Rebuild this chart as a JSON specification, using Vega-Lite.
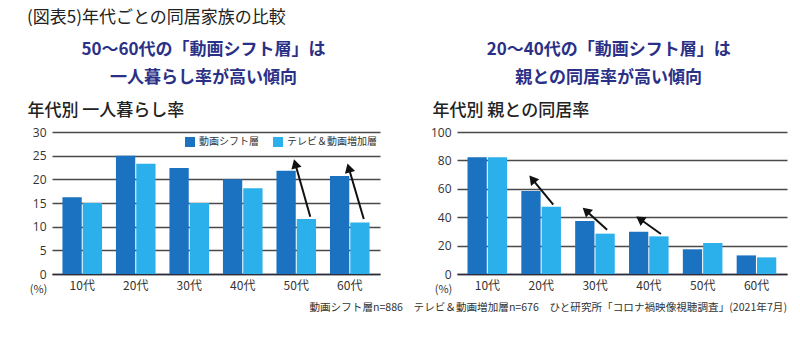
{
  "$schema": "https://vega.github.io/schema/vega-lite/v6.json",
  "padding": {"left": 27, "top": 9, "right": 14, "bottom": 6},
  "background": "white",
  "config": {
    "font": "Noto Sans CJK JP",
    "view": {"stroke": null},
    "axisY": {
      "grid": true, "gridColor": "#4a4a4a", "gridWidth": 1.5,
      "domain": false, "ticks": false, "labelPadding": 6, "labelOverlap": false,
      "labelFontSize": 12, "labelColor": "#333", "labelFont": "Open Sans",
      "titleAngle": 0, "titleAlign": "left", "titleBaseline": "middle",
      "titleX": -25, "titleY": -22, "titleFontSize": 17, "titleFontWeight": 500, "titleColor": "#222"
    },
    "axisX": {
      "grid": false, "domain": true, "domainColor": "#2c2c3c", "domainWidth": 1.5,
      "ticks": false, "labelAngle": 0, "labelPadding": 6, "labelFontSize": 12, "labelColor": "#333",
      "titleX": -14, "titleY": 15, "titleAlign": "center", "titleBaseline": "middle",
      "titleFontSize": 11, "titleFontWeight": "normal", "titleColor": "#333"
    },
    "legend": {
      "orient": "none", "legendX": 133, "legendY": 5, "direction": "horizontal",
      "title": null, "symbolType": "square", "symbolSize": 100, "symbolStrokeWidth": 0,
      "labelFontSize": 10, "labelColor": "#333", "columnPadding": 14, "labelOffset": 4
    }
  },
  "datasets": {
    "solo": [
      {"age": "10代", "group": "動画シフト層", "value": 16.2},
      {"age": "10代", "group": "テレビ＆動画増加層", "value": 15.0},
      {"age": "20代", "group": "動画シフト層", "value": 25.0},
      {"age": "20代", "group": "テレビ＆動画増加層", "value": 23.3},
      {"age": "30代", "group": "動画シフト層", "value": 22.4},
      {"age": "30代", "group": "テレビ＆動画増加層", "value": 15.0},
      {"age": "40代", "group": "動画シフト層", "value": 20.0},
      {"age": "40代", "group": "テレビ＆動画増加層", "value": 18.1},
      {"age": "50代", "group": "動画シフト層", "value": 21.8},
      {"age": "50代", "group": "テレビ＆動画増加層", "value": 11.6},
      {"age": "60代", "group": "動画シフト層", "value": 20.7},
      {"age": "60代", "group": "テレビ＆動画増加層", "value": 10.9}
    ],
    "parent": [
      {"age": "10代", "group": "動画シフト層", "value": 82.3},
      {"age": "10代", "group": "テレビ＆動画増加層", "value": 82.3},
      {"age": "20代", "group": "動画シフト層", "value": 58.5},
      {"age": "20代", "group": "テレビ＆動画増加層", "value": 47.4},
      {"age": "30代", "group": "動画シフト層", "value": 37.3},
      {"age": "30代", "group": "テレビ＆動画増加層", "value": 28.4},
      {"age": "40代", "group": "動画シフト層", "value": 29.8},
      {"age": "40代", "group": "テレビ＆動画増加層", "value": 26.5},
      {"age": "50代", "group": "動画シフト層", "value": 17.4},
      {"age": "50代", "group": "テレビ＆動画増加層", "value": 21.8},
      {"age": "60代", "group": "動画シフト層", "value": 13.1},
      {"age": "60代", "group": "テレビ＆動画増加層", "value": 11.7}
    ],
    "arrows_solo": [
      {"age": "50代", "from": 12.1, "to": 23.3},
      {"age": "60代", "from": 11.6, "to": 22.4}
    ],
    "arrows_parent": [
      {"age": "20代", "from": 48.8, "to": 66.8},
      {"age": "30代", "from": 31.2, "to": 44.6},
      {"age": "40代", "from": 28.2, "to": 38.7}
    ]
  },
  "title": {
    "text": "動画シフト層n=886　テレビ＆動画増加層n=676　ひと研究所「コロナ禍映像視聴調査」(2021年7月)",
    "orient": "bottom", "anchor": "end", "fontSize": 10.6, "fontWeight": "normal", "color": "#333", "offset": 9
  },
  "vconcat": [
    {
      "title": {"text": "(図表5)年代ごとの同居家族の比較", "anchor": "start", "fontSize": 17, "fontWeight": "normal", "color": "#222", "offset": 14},
      "spacing": 50,
      "hconcat": [
        {
          "width": 328, "height": 142,
          "title": {"text": ["50～60代の「動画シフト層」は", "一人暮らし率が高い傾向"], "anchor": "middle", "frame": "bounds", "color": "#2b3087", "fontSize": 17, "fontWeight": "bold", "lineHeight": 28, "offset": 14},
          "layer": [
            {
              "data": {"name": "solo"},
              "mark": {"type": "bar"},
              "encoding": {
                "x": {"field": "age", "type": "nominal", "sort": null, "scale": {"paddingInner": 0.26, "paddingOuter": 0.195}, "axis": {"title": "(%)"}},
                "xOffset": {"field": "group", "type": "nominal", "sort": ["動画シフト層", "テレビ＆動画増加層"], "scale": {"paddingInner": 0.05}},
                "y": {"field": "value", "type": "quantitative", "scale": {"domain": [0, 30]}, "axis": {"values": [0, 5, 10, 15, 20, 25, 30], "title": "年代別 一人暮らし率"}},
                "color": {"field": "group", "type": "nominal", "sort": ["動画シフト層", "テレビ＆動画増加層"], "scale": {"domain": ["動画シフト層", "テレビ＆動画増加層"], "range": ["#1b72c1", "#2bb0eb"]}}
              }
            },
            {
              "data": {"name": "arrows_solo"},
              "mark": {"type": "rule", "color": "#111", "strokeWidth": 2, "xOffset": 14, "x2Offset": -1},
              "encoding": {
                "x": {"field": "age", "type": "nominal", "axis": {"title": "(%)"}},
                "x2": {"field": "age"},
                "y": {"field": "from", "type": "quantitative", "axis": {"values": [0, 5, 10, 15, 20, 25, 30], "title": "年代別 一人暮らし率"}},
                "y2": {"field": "to"}
              }
            },
            {
              "data": {"name": "arrows_solo"},
              "mark": {"type": "point", "shape": "triangle-up", "filled": true, "color": "#111", "opacity": 1, "size": 110, "angle": -16, "xOffset": -1},
              "encoding": {
                "x": {"field": "age", "type": "nominal", "axis": {"title": "(%)"}},
                "y": {"field": "to", "type": "quantitative", "axis": {"values": [0, 5, 10, 15, 20, 25, 30], "title": "年代別 一人暮らし率"}}
              }
            }
          ]
        },
        {
          "width": 330, "height": 142,
          "title": {"text": ["20～40代の「動画シフト層」は", "親との同居率が高い傾向"], "anchor": "middle", "frame": "bounds", "color": "#2b3087", "fontSize": 17, "fontWeight": "bold", "lineHeight": 28, "offset": 14},
          "layer": [
            {
              "data": {"name": "parent"},
              "mark": {"type": "bar"},
              "encoding": {
                "x": {"field": "age", "type": "nominal", "sort": null, "scale": {"paddingInner": 0.26, "paddingOuter": 0.195}, "axis": {"title": "(%)"}},
                "xOffset": {"field": "group", "type": "nominal", "sort": ["動画シフト層", "テレビ＆動画増加層"], "scale": {"paddingInner": 0.05}},
                "y": {"field": "value", "type": "quantitative", "scale": {"domain": [0, 100]}, "axis": {"values": [0, 20, 40, 60, 80, 100], "title": "年代別 親との同居率"}},
                "color": {"field": "group", "type": "nominal", "sort": ["動画シフト層", "テレビ＆動画増加層"], "scale": {"domain": ["動画シフト層", "テレビ＆動画増加層"], "range": ["#1b72c1", "#2bb0eb"]}}
              }
            },
            {
              "data": {"name": "arrows_parent"},
              "mark": {"type": "rule", "color": "#111", "strokeWidth": 2, "xOffset": 12, "x2Offset": -9},
              "encoding": {
                "x": {"field": "age", "type": "nominal", "axis": {"title": "(%)"}},
                "x2": {"field": "age"},
                "y": {"field": "from", "type": "quantitative", "axis": {"values": [0, 20, 40, 60, 80, 100], "title": "年代別 親との同居率"}},
                "y2": {"field": "to"}
              }
            },
            {
              "data": {"name": "arrows_parent"},
              "transform": [{"filter": "datum.age == '20代'"}],
              "mark": {"type": "point", "shape": "triangle-up", "filled": true, "color": "#111", "opacity": 1, "size": 110, "angle": -39, "xOffset": -9},
              "encoding": {"x": {"field": "age", "type": "nominal", "axis": {"title": "(%)"}}, "y": {"field": "to", "type": "quantitative", "axis": {"values": [0, 20, 40, 60, 80, 100], "title": "年代別 親との同居率"}}}
            },
            {
              "data": {"name": "arrows_parent"},
              "transform": [{"filter": "datum.age == '30代'"}],
              "mark": {"type": "point", "shape": "triangle-up", "filled": true, "color": "#111", "opacity": 1, "size": 110, "angle": -48, "xOffset": -9},
              "encoding": {"x": {"field": "age", "type": "nominal", "axis": {"title": "(%)"}}, "y": {"field": "to", "type": "quantitative", "axis": {"values": [0, 20, 40, 60, 80, 100], "title": "年代別 親との同居率"}}}
            },
            {
              "data": {"name": "arrows_parent"},
              "transform": [{"filter": "datum.age == '40代'"}],
              "mark": {"type": "point", "shape": "triangle-up", "filled": true, "color": "#111", "opacity": 1, "size": 110, "angle": -55, "xOffset": -9},
              "encoding": {"x": {"field": "age", "type": "nominal", "axis": {"title": "(%)"}}, "y": {"field": "to", "type": "quantitative", "axis": {"values": [0, 20, 40, 60, 80, 100], "title": "年代別 親との同居率"}}}
            }
          ]
        }
      ]
    }
  ]
}
